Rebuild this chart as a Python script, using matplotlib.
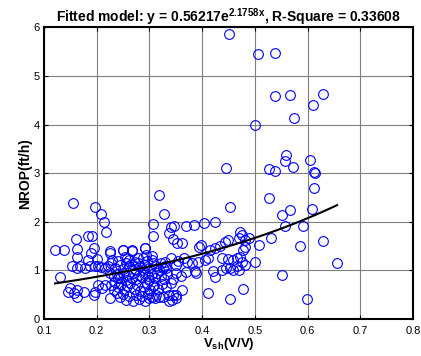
import numpy as np
import matplotlib
matplotlib.use("Agg")
import matplotlib.pyplot as plt

# Fitted model from the reference title
fit_a = 0.56217
fit_b = 2.1758
r_square = 0.33608

# Vsh (V/V) and NROP (ft/h) values
vsh_right = [0.451, 0.506, 0.539, 0.539, 0.567, 0.630, 0.611, 0.575, 0.501,
             0.559, 0.557, 0.605, 0.446, 0.526, 0.539, 0.573, 0.612, 0.614,
             0.612, 0.527, 0.453, 0.566, 0.551, 0.608, 0.557, 0.592, 0.586,
             0.629, 0.656, 0.551, 0.598, 0.530, 0.507]
nrop_right = [5.87, 5.46, 5.48, 4.58, 4.60, 4.63, 4.40, 4.14, 4.00,
              3.38, 3.25, 3.27, 3.10, 3.08, 3.05, 3.12, 3.03, 3.01,
              2.70, 2.49, 2.30, 2.24, 2.14, 2.27, 1.92, 1.92, 1.51,
              1.61, 1.15, 0.90, 0.41, 1.66, 1.52]

vsh_mid = [0.404, 0.424, 0.384, 0.369, 0.472, 0.475, 0.469, 0.481, 0.488,
           0.398, 0.415, 0.424, 0.434, 0.443, 0.450, 0.481, 0.478, 0.392,
           0.405, 0.411, 0.437, 0.450, 0.459, 0.466, 0.472, 0.475, 0.481,
           0.500, 0.389, 0.421, 0.424, 0.437, 0.446, 0.453, 0.459, 0.466,
           0.469, 0.386, 0.411, 0.453, 0.478, 0.380]
nrop_mid = [1.98, 2.00, 1.94, 1.92, 1.80, 1.73, 1.66, 1.63, 1.66,
            1.52, 1.42, 1.46, 1.50, 1.59, 1.63, 1.49, 1.42, 1.18,
            1.22, 1.25, 1.25, 1.23, 1.22, 1.25, 1.28, 1.18, 1.11,
            1.18, 0.94, 0.98, 0.87, 1.01, 1.05, 1.05, 1.01, 1.08,
            1.01, 0.98, 0.54, 0.41, 0.61, 1.15]

vsh_centre = [0.318, 0.328, 0.307, 0.307, 0.346, 0.340, 0.338, 0.352, 0.361,
              0.345, 0.394, 0.304, 0.307, 0.329, 0.326, 0.351, 0.344, 0.300,
              0.307, 0.338, 0.351, 0.361, 0.342, 0.319, 0.310, 0.332, 0.294,
              0.288, 0.253, 0.262, 0.272, 0.278, 0.250, 0.266, 0.291, 0.300,
              0.313, 0.326, 0.338, 0.345, 0.351]
nrop_centre = [2.55, 2.16, 1.96, 1.70, 1.92, 1.90, 1.77, 1.57, 1.56,
               1.65, 1.49, 1.22, 1.15, 1.18, 1.05, 1.11, 0.82, 0.80,
               0.67, 0.50, 0.50, 0.60, 0.39, 0.46, 0.43, 1.05, 1.32,
               1.25, 1.28, 1.22, 1.18, 1.25, 1.42, 1.42, 1.46, 0.43,
               0.50, 0.46, 0.36, 0.50, 0.43]

vsh_left = [0.155, 0.197, 0.208, 0.214, 0.218, 0.160, 0.183, 0.192, 0.121,
            0.138, 0.162, 0.194, 0.189, 0.162, 0.184, 0.200, 0.226, 0.249,
            0.267, 0.292, 0.130, 0.154, 0.162, 0.168, 0.178, 0.187, 0.197,
            0.203, 0.209, 0.216, 0.226, 0.229, 0.146, 0.149, 0.156, 0.162,
            0.162, 0.175, 0.194, 0.197, 0.203, 0.210, 0.216, 0.226, 0.232,
            0.238, 0.235, 0.241]
nrop_left = [2.38, 2.31, 2.16, 1.99, 1.78, 1.64, 1.70, 1.71, 1.41,
             1.41, 1.44, 1.46, 1.35, 1.28, 1.22, 1.24, 1.39, 1.42,
             1.39, 1.46, 0.87, 1.08, 1.05, 1.08, 1.05, 1.08, 1.10,
             1.08, 1.06, 1.05, 1.35, 1.22, 0.56, 0.63, 0.53, 0.60,
             0.46, 0.56, 0.50, 0.56, 0.70, 0.63, 0.70, 0.43, 0.60,
             0.53, 0.77, 0.84]

vsh_dense = [0.222, 0.228, 0.235, 0.240, 0.245, 0.250, 0.255, 0.258, 0.262,
             0.268, 0.272, 0.278, 0.282, 0.288, 0.292, 0.296, 0.300, 0.305,
             0.312, 0.318, 0.322, 0.330,
             0.225, 0.232, 0.238, 0.245, 0.250, 0.255, 0.260, 0.266, 0.270,
             0.275, 0.280, 0.286, 0.292, 0.298, 0.305, 0.310, 0.315, 0.322,
             0.328, 0.334,
             0.228, 0.240, 0.246, 0.252, 0.258, 0.264, 0.270, 0.276, 0.282,
             0.290, 0.296, 0.302, 0.308, 0.316, 0.324, 0.332, 0.340,
             0.244, 0.250, 0.256, 0.262, 0.268, 0.274, 0.280, 0.286, 0.292,
             0.298, 0.304,
             0.340, 0.355, 0.365, 0.372, 0.350, 0.360, 0.370]
nrop_dense = [1.10, 1.15, 1.05, 1.20, 1.12, 1.02, 1.15, 1.25, 1.08,
              1.12, 1.02, 1.15, 1.08, 1.00, 1.12, 1.20, 1.05, 1.30,
              1.10, 1.00, 1.15, 1.10,
              0.95, 0.88, 0.92, 0.85, 0.95, 0.80, 0.90, 0.85, 0.95,
              0.82, 0.90, 0.86, 0.95, 0.88, 0.92, 0.85, 0.95, 0.88,
              0.82, 0.92,
              0.70, 0.65, 0.72, 0.60, 0.68, 0.75, 0.62, 0.70, 0.58,
              0.66, 0.74, 0.60, 0.70, 0.62, 0.72, 0.66, 0.75,
              0.45, 0.52, 0.40, 0.48, 0.38, 0.50, 0.42, 0.47, 0.38,
              0.52, 0.45,
              1.25, 1.20, 1.25, 1.18, 0.95, 0.88, 0.96]

vsh = np.array(vsh_right + vsh_mid + vsh_centre + vsh_left + vsh_dense)
nrop = np.array(nrop_right + nrop_mid + nrop_centre + nrop_left + nrop_dense)

x_ticks = [0.1, 0.2, 0.3, 0.4, 0.5, 0.6, 0.7, 0.8]
y_ticks = [0, 1, 2, 3, 4, 5, 6]

plt.rcParams['font.family'] = ['Liberation Sans', 'DejaVu Sans']
plt.rcParams['mathtext.fontset'] = 'custom'
plt.rcParams['mathtext.rm'] = 'Liberation Sans'
plt.rcParams['mathtext.bf'] = 'Liberation Sans:bold'

fig = plt.figure(figsize=(4.21, 3.56), dpi=100)
ax = fig.add_axes([0.1045, 0.104, 0.8765, 0.819])

ax.plot(vsh, nrop, 'o', color='#0000ff', mfc='none', ms=7, mew=0.8, zorder=3)

# fitted curve over the data range
xf = np.linspace(vsh.min(), vsh.max(), 100)
ax.plot(xf, fit_a * np.exp(fit_b * xf), color='black', lw=1.5, zorder=4)

ax.set_xlim(0.1, 0.8)
ax.set_ylim(0, 6)
ax.set_xticks(x_ticks)
ax.set_yticks(y_ticks)
ax.set_xticklabels([f"{t:g}" for t in x_ticks])
ax.set_yticklabels([str(t) for t in y_ticks])
ax.grid(True, color='0.5', lw=0.8)
ax.set_axisbelow(True)
ax.tick_params(direction='in', length=3, width=0.8, labelsize=8,
               top=True, right=True)
ax.tick_params(axis='x', pad=5)
ax.tick_params(axis='y', pad=3)
for s in ax.spines.values():
    s.set_linewidth(1.5)

ax.set_title(r'Fitted model: y = 0.56217e$^{\mathbf{2.1758x}}$, R-Square = %.5f' % r_square,
             fontsize=10, fontweight='bold', pad=4)
ax.set_xlabel(r'V$_{\mathbf{sh}}$(V/V)', fontsize=9.5, fontweight='bold', labelpad=0)
ax.set_ylabel('NROP(ft/h)', fontsize=10, fontweight='bold', labelpad=1)

fig.savefig('out.png', dpi=100)
